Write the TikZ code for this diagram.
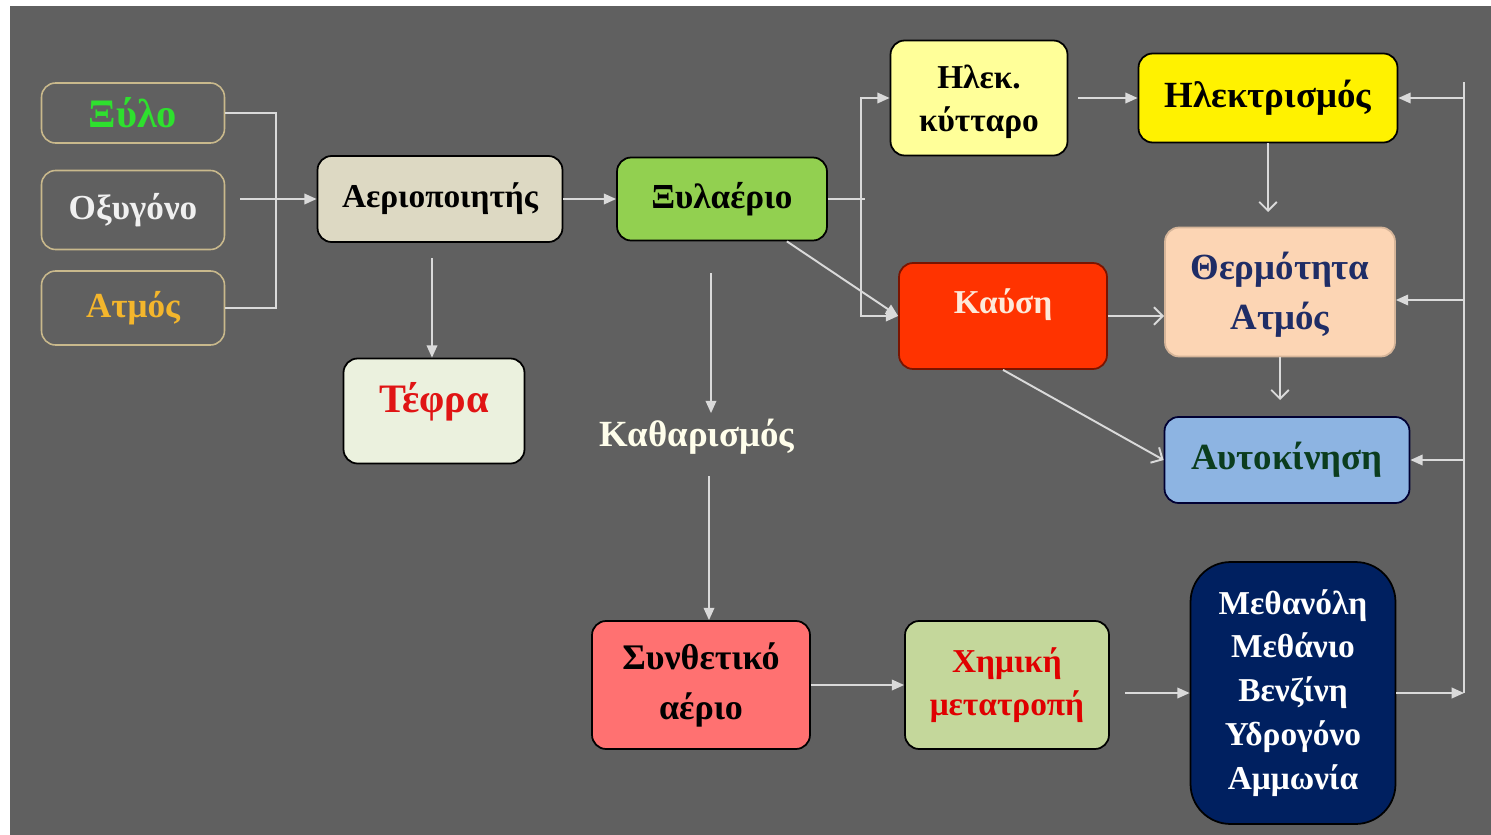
\documentclass[tikz,border=0pt]{standalone}
\usepackage{fontspec}
\setmainfont{Liberation Serif}
\usetikzlibrary{arrows.meta}
\definecolor{slide}{HTML}{606060}
\definecolor{wirec}{HTML}{DADADA}
\definecolor{inedge}{HTML}{C9B98C}
\definecolor{woodgreen}{HTML}{2EE02E}
\definecolor{steamgold}{HTML}{F4B62C}
\definecolor{gasifier}{HTML}{DDD9C3}
\definecolor{ashfill}{HTML}{EBF1DE}
\definecolor{ashred}{HTML}{E01414}
\definecolor{woodgas}{HTML}{92D050}
\definecolor{cellfill}{HTML}{FFFF99}
\definecolor{heatfill}{HTML}{FCD5B4}
\definecolor{heatnavy}{HTML}{1F2D66}
\definecolor{fire}{HTML}{FF3300}
\definecolor{fireedge}{HTML}{7A1400}
\definecolor{firetext}{HTML}{FDE9D9}
\definecolor{carfill}{HTML}{8DB4E2}
\definecolor{cargreen}{HTML}{0B3D1E}
\definecolor{synfill}{HTML}{FF7171}
\definecolor{chemfill}{HTML}{C4D79B}
\definecolor{chemred}{HTML}{E00000}
\definecolor{fuelfill}{HTML}{002060}
\newcommand\boxfont{\fontsize{20}{26}\selectfont\bfseries}
\begin{document}
\begin{tikzpicture}[x=0.02cm, y=-0.02cm, >={Triangle[length=7pt,width=6pt]},
  wire/.style={draw=wirec, line width=1.1pt},
  arr/.style={wire, ->},
  oarr/.style={wire, -{Straight Barb[length=5pt,width=10pt]}},
  box/.style={draw=black, line width=1pt, rounded corners=8pt, align=center, font=\boxfont, inner sep=2pt},
  inbox/.style={box, draw=inedge, line width=0.9pt}]
\fill[white] (0,0) rectangle (1491,835);
\fill[slide] (10,6) rectangle (1491,835);
% inputs
\node[inbox, minimum width=3.66cm, minimum height=1.2cm, text=woodgreen, font=\fontsize{23}{26}\selectfont\bfseries] (wood) at (133,113) {Ξύλο};
\node[inbox, minimum width=3.66cm, minimum height=1.58cm, text=white!94!black] (oxy) at (133,210) {Οξυγόνο};
\node[inbox, minimum width=3.66cm, minimum height=1.48cm, text=steamgold] (steam) at (133,308) {Ατμός};
% gasifier
\node[box, fill=gasifier, minimum width=4.9cm, minimum height=1.72cm, font=\fontsize{19}{24}\selectfont\bfseries] (gasif) at (440,199) {Αεριοποιητής};
\node[box, fill=ashfill, minimum width=3.62cm, minimum height=2.1cm, text=ashred, font=\fontsize{23}{26}\selectfont\bfseries, text height=0.5cm, text depth=0.45cm] (ash) at (434,411) {Τέφρα};
\node[box, fill=woodgas, minimum width=4.2cm, minimum height=1.66cm] (wgas) at (722,199) {Ξυλαέριο};
% upper right
\node[box, fill=cellfill, minimum width=3.54cm, minimum height=2.3cm, font=\fontsize{19}{24}\selectfont\bfseries] (cell) at (979,98) {\rule{0pt}{0.62cm}Ηλεκ.\\κύτταρο};
\node[box, fill=yellow, minimum width=5.18cm, minimum height=1.78cm, font=\fontsize{21}{26}\selectfont\bfseries] (elec) at (1268,98) {Ηλεκτρισμός};
\node[box, draw=heatfill!85!black, fill=heatfill, minimum width=4.6cm, minimum height=2.58cm, text=heatnavy, font=\fontsize{21}{28.5}\selectfont\bfseries] (heat) at (1280,292) {\rule{0pt}{0.66cm}Θερμότητα\\Ατμός};
\node[box, draw=fireedge, fill=fire, minimum width=4.16cm, minimum height=2.12cm, text=firetext, font=\fontsize{19}{24}\selectfont\bfseries, text height=0.5cm, text depth=0.6cm] (burn) at (1003,316) {Καύση};
\node[box, draw=black!80!blue, fill=carfill, minimum width=4.9cm, minimum height=1.72cm, text=cargreen, font=\fontsize{21}{26}\selectfont\bfseries] (car) at (1287,460) {Αυτοκίνηση};
% cleaning and synthesis
\node[text=white!92!yellow, font=\fontsize{21}{26}\selectfont\bfseries] (clean) at (697,437) {Καθαρισμός};
\node[box, fill=synfill, minimum width=4.36cm, minimum height=2.56cm, font=\fontsize{20.5}{28}\selectfont\bfseries] (syn) at (701,685) {Συνθετικό\\αέριο};
\node[box, fill=chemfill, minimum width=4.08cm, minimum height=2.56cm, text=chemred, font=\fontsize{19}{24.5}\selectfont\bfseries] (chem) at (1007,685) {Χημική\\μετατροπή};
\node[box, fill=fuelfill, rounded corners=0.8cm, minimum width=4.1cm, minimum height=5.24cm, text=white, font=\fontsize{19}{25}\selectfont\bfseries] (fuel) at (1293,693) {Μεθανόλη\\Μεθάνιο\\Βενζίνη\\Υδρογόνο\\Αμμωνία};
% free ends
\coordinate (merge) at (276,210);
\coordinate (oxyout) at (240,199);
\coordinate (ashin) at (432,258);
\coordinate (split) at (861,199);
\coordinate (splitend) at (865,199);
\coordinate (heatin) at (1268,212);
\coordinate (carin) at (1280,400);
\coordinate (cleanin) at (711,273);
\coordinate (cleanout) at (709,476);
\coordinate (chemout) at (1125,693);
\coordinate (busbot) at (1464,693);
\coordinate (bustop) at (1464,82);
% connectors
\draw[wire] (wood.east) -| (merge) |- (steam.east);
\draw[arr] (oxyout) -- (gasif.west);
\draw[arr] (ashin) -- (ashin |- ash.north);
\draw[arr] (gasif.east) -- (wgas.west);
\draw[wire] (wgas.east) -- (splitend);
\draw[arr] (split) |- (cell.west);
\draw[arr] (split) |- (burn.west);
\draw[arr] ([xshift=-0.82cm]wgas.south east) -- (burn.west);
\draw[arr] ([xshift=0.2cm]cell.east) -- (elec.west);
\draw[oarr] (elec.south) -- (heatin);
\draw[oarr] (burn.east) -- (burn.east -| heat.west);
\draw[oarr] (heat.south) -- (carin);
\draw[oarr] (burn.south) -- (car.west);
\draw[arr] (cleanin) -- (cleanin |- clean.north);
\draw[arr] (cleanout) -- (cleanout |- syn.north);
\draw[arr] (syn.east) -- (chem.west);
\draw[arr] (chemout) -- (fuel.west);
\draw[arr] (fuel.east) -- (busbot);
\draw[wire] (busbot) -- (bustop);
\draw[arr] (bustop |- elec.east) -- (elec.east);
\draw[arr] ([yshift=-0.16cm]bustop |- heat.east) -- ([yshift=-0.16cm]heat.east);
\draw[arr] (bustop |- car.east) -- (car.east);
\end{tikzpicture}
\end{document}
